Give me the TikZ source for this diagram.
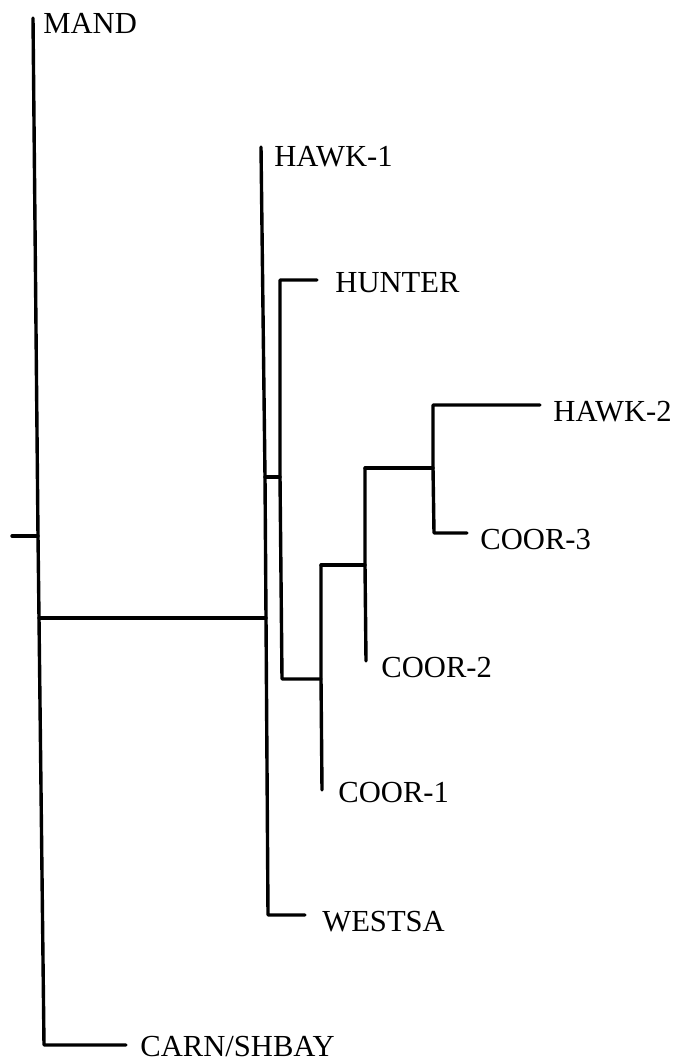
\documentclass[tikz,border=0pt]{standalone}
\usepackage{fontspec}
\setmainfont{Liberation Serif}
\tikzset{
  every picture/.style={line join=round, line cap=round},
  branch/.style={line width=1.7pt},
  taxon/.style={anchor=west, inner sep=0pt, text depth=0pt, font=\fontsize{15.3}{18}\selectfont},
}

\begin{document}
\begin{tikzpicture}[x=0.5pt,y=-0.5pt]
\useasboundingbox (0,0) rectangle (678,1063);
% joints of the tree
\coordinate (root) at (12,536);
\coordinate (m0) at (33,18);
\coordinate (m1) at (38,536);
\coordinate (m2) at (39,618);
\coordinate (m3) at (44,1045);
\coordinate (a0) at (261,147);
\coordinate (a1) at (265,477);
\coordinate (a2) at (266,618);
\coordinate (a3) at (268,915);
\coordinate (b0) at (280,280);
\coordinate (b1) at (280,477);
\coordinate (b2) at (282,679);
\coordinate (c0) at (321,565);
\coordinate (c1) at (321,679);
\coordinate (c2) at (322,790);
\coordinate (d0) at (365,468);
\coordinate (d1) at (365,565);
\coordinate (d2) at (366,661);
\coordinate (e0) at (433,405);
\coordinate (e1) at (433,468);
\coordinate (e2) at (434,533);
% branch tips
\coordinate (tHUNTER) at (317,280);
\coordinate (tWESTSA) at (305,915);
\coordinate (tHAWKb) at (540,405);
\coordinate (tCOORc) at (467,533);
\coordinate (tCARN) at (126,1045);
% taxa
\node[taxon] (MAND) at (43,23) {MAND};
\node[taxon] (HAWKa) at (274,156) {HAWK-1};
\node[taxon] (HUNTER) at (335,282) {HUNTER};
\node[taxon] (HAWKb) at (553,411) {HAWK-2};
\node[taxon] (COORc) at (480,539) {COOR-3};
\node[taxon] (COORb) at (381,667) {COOR-2};
\node[taxon] (COORa) at (338,792) {COOR-1};
\node[taxon] (WESTSA) at (322,921) {WESTSA};
\node[taxon] (CARN) at (140,1046) {CARN/SHBAY};
% branches
\draw[branch] (root) -- (m1);
\draw[branch] (m0) -- (m1) -- (m2) -- (m3) -- (tCARN);
\draw[branch] (m2) -- (a2);
\draw[branch] (a0) -- (a1) -- (a2) -- (a3) -- (tWESTSA);
\draw[branch] (a1) -- (b1);
\draw[branch] (tHUNTER) -- (b0) -- (b1) -- (b2) -- (c1);
\draw[branch] (c0) -- (c1) -- (c2);
\draw[branch] (c0) -- (d1);
\draw[branch] (d0) -- (d1) -- (d2);
\draw[branch] (d0) -- (e1);
\draw[branch] (tHAWKb) -- (e0) -- (e1) -- (e2) -- (tCOORc);
\end{tikzpicture}
\end{document}
